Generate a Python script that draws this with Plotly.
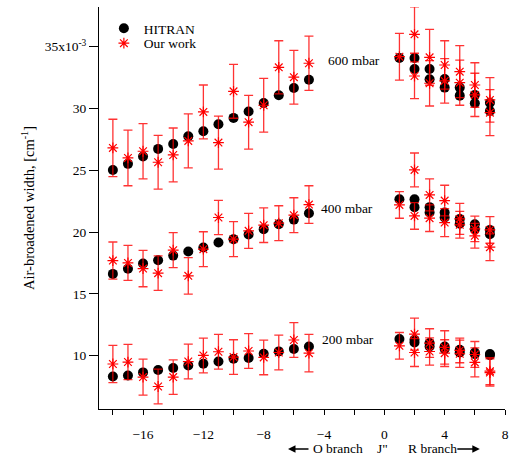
import plotly.graph_objects as go

# J" values
J_O = [-18, -17, -16, -15, -14, -13, -12, -11, -10, -9, -8, -7, -6, -5]
J_R = [1, 2, 2, 3, 3, 4, 4, 5, 5, 6, 6, 7, 7]

# Widths in units of 1e-3 cm^-1
hitran_600_O = [25.03, 25.52, 26.11, 26.73, 27.13, 27.76, 28.16, 28.73, 29.24, 29.75, 30.45, 31.07, 31.66, 32.33]
hitran_600_R = [34.09, 34.09, 33.20, 33.20, 32.36, 32.39, 31.69, 31.69, 31.04, 31.10, 30.42, 30.47, 29.80]
ours_600_O = [26.81, 26.00, 26.54, 25.65, 26.24, 27.38, 29.72, 27.24, 31.39, 28.89, 30.26, 33.33, 32.53, 33.66]
err_600_O = [2.32, 2.25, 2.24, 2.18, 2.18, 2.18, 2.18, 2.15, 2.18, 2.17, 2.18, 2.15, 2.17, 2.20]
ours_600_R = [34.19, 36.00, 32.63, 34.14, 32.04, 33.52, 32.23, 32.98, 32.09, 31.90, 31.10, 30.69, 29.66]
err_600_R = [1.89, 2.23, 1.84, 2.26, 1.84, 1.96, 1.80, 2.10, 1.83, 1.80, 1.75, 1.80, 1.86]

hitran_400_O = [16.62, 17.03, 17.46, 17.73, 18.10, 18.43, 18.75, 19.16, 19.43, 19.80, 20.24, 20.64, 21.01, 21.53]
hitran_400_R = [22.66, 22.66, 22.02, 22.02, 21.58, 21.58, 21.18, 21.07, 20.67, 20.64, 20.24, 20.18, 19.83]
ours_400_O = [17.70, 17.51, 17.05, 16.68, 18.54, 16.46, 18.62, 21.18, 19.43, 20.10, 20.56, 20.72, 21.37, 22.23]
err_400_O = [1.50, 1.41, 1.47, 1.39, 1.41, 1.47, 1.41, 1.39, 1.41, 1.41, 1.40, 1.41, 1.41, 1.52]
ours_400_R = [22.20, 25.03, 21.31, 23.01, 21.13, 22.55, 20.77, 21.07, 20.59, 20.26, 19.70, 20.18, 18.78]
err_400_R = [1.08, 1.37, 1.08, 1.29, 1.08, 1.24, 1.13, 1.25, 1.08, 1.03, 1.00, 1.08, 1.08]

hitran_200_O = [8.32, 8.40, 8.65, 8.84, 9.00, 9.21, 9.35, 9.53, 9.75, 9.81, 10.16, 10.35, 10.54, 10.75]
hitran_200_R = [11.35, 11.29, 11.07, 11.02, 10.75, 10.75, 10.54, 10.48, 10.26, 10.26, 10.13, 10.13, 10.05]
ours_200_O = [9.33, 9.49, 8.27, 7.51, 8.27, 9.53, 10.02, 10.32, 9.89, 10.38, 9.86, 10.26, 11.27, 10.21]
err_200_O = [1.51, 1.43, 1.46, 1.41, 1.40, 1.41, 1.40, 1.40, 1.40, 1.41, 1.40, 1.40, 1.41, 1.51]
ours_200_R = [10.80, 11.75, 10.26, 11.02, 10.34, 10.67, 10.21, 10.43, 10.16, 10.10, 9.46, 8.75, 8.64]
err_200_R = [1.08, 1.29, 1.13, 1.16, 1.10, 1.35, 1.08, 1.00, 1.10, 1.05, 1.17, 1.10, 1.10]

pressure_labels = ["600 mbar", "400 mbar", "200 mbar"]
label_pos = [(-3.87, 33.92), (-4.34, 21.9), (-4.27, 11.35)]

y_tickvals = [10, 15, 20, 25, 30, 35]
y_ticktext = ["10", "15", "20", "25", "30", "35x10<sup>-3</sup>"]
x_tickvals = [-16, -12, -8, -4, 0, 4, 8]

J_all = (J_O + J_R) * 3
hitran_all = hitran_600_O + hitran_600_R + hitran_400_O + hitran_400_R + hitran_200_O + hitran_200_R
ours_all = ours_600_O + ours_600_R + ours_400_O + ours_400_R + ours_200_O + ours_200_R
err_all = err_600_O + err_600_R + err_400_O + err_400_R + err_200_O + err_200_R

FONT = "Liberation Serif"
FS = 13.5

fig = go.Figure()
fig.add_trace(go.Scatter(
    x=J_all, y=hitran_all, mode="markers", name="HITRAN", legend="legend",
    marker=dict(symbol="circle", size=10, color="black"),
))
fig.add_trace(go.Scatter(
    x=J_all, y=ours_all, mode="markers", name="Our work", legend="legend2",
    marker=dict(symbol="asterisk-open", size=9, color="red", line=dict(color="red", width=1.2)),
    error_y=dict(type="data", array=err_all, visible=True, color="rgba(255,0,0,0.8)",
                 thickness=1.3, width=4.5),
))

for txt, (xx, yy) in zip(pressure_labels, label_pos):
    fig.add_annotation(x=xx, y=yy, text=txt, showarrow=False, xanchor="left", yanchor="middle",
                       font=dict(family=FONT, size=FS, color="black"))

# Y axis title
fig.add_annotation(xref="paper", yref="paper", x=-0.175, y=0.5, text="Air-broadened width, [cm<sup>-1</sup>]",
                   textangle=-90, showarrow=False, xanchor="center", yanchor="middle",
                   font=dict(family=FONT, size=14.5, color="black"))

# Bottom branch labels
yb = -0.0995
fig.add_annotation(xref="paper", yref="paper", x=0.522, y=yb, text="O branch", showarrow=False,
                   xanchor="left", yanchor="middle", font=dict(family=FONT, size=FS, color="black"))
fig.add_annotation(xref="paper", yref="paper", x=0.6995, y=yb, text="J\"", showarrow=False,
                   xanchor="center", yanchor="middle", font=dict(family=FONT, size=FS, color="black"))
fig.add_annotation(xref="paper", yref="paper", x=0.756, y=yb, text="R branch", showarrow=False,
                   xanchor="left", yanchor="middle", font=dict(family=FONT, size=FS, color="black"))
fig.add_annotation(xref="paper", yref="paper", x=0.4655, y=yb, ax=22, ay=0, text="", showarrow=True,
                   arrowhead=2, arrowsize=1, arrowwidth=1.5, arrowcolor="black")
fig.add_annotation(xref="paper", yref="paper", x=0.938, y=yb, ax=-24, ay=0, text="", showarrow=True,
                   arrowhead=2, arrowsize=1, arrowwidth=1.5, arrowcolor="black")

fig.update_layout(
    width=524, height=462,
    margin=dict(l=99, r=19, t=7, b=53),
    paper_bgcolor="white", plot_bgcolor="white",
    font=dict(family=FONT, size=FS, color="black"),
    showlegend=True,
    legend=dict(x=0.012, y=0.985, xanchor="left", yanchor="top", bgcolor="rgba(0,0,0,0)",
                font=dict(family=FONT, size=FS), borderwidth=0),
    legend2=dict(x=0.012, y=0.948, xanchor="left", yanchor="top", bgcolor="rgba(0,0,0,0)",
                 font=dict(family=FONT, size=FS), borderwidth=0),
)
fig.update_xaxes(range=[-18.92, 8.0], showline=True, linecolor="black", linewidth=1,
                 showgrid=False, zeroline=False, ticks="outside", ticklen=5, tickcolor="black",
                 tickvals=x_tickvals, ticklabelstandoff=8,
                 minor=dict(tick0=0, dtick=2, ticks="outside", ticklen=5, tickcolor="black", showgrid=False))
fig.update_yaxes(range=[5.69, 38.21], showline=True, linecolor="black", linewidth=1,
                 showgrid=False, zeroline=False, ticks="outside", ticklen=9, tickcolor="black",
                 tickvals=y_tickvals, ticktext=y_ticktext)

fig.write_html("out.html", config={"displayModeBar": False},
               post_script="document.body.style.margin='0';")
